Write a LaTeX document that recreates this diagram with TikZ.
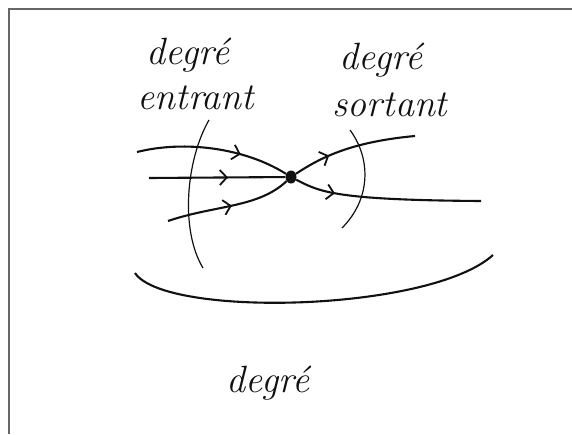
\documentclass[tikz,border=0pt]{standalone}
\usepackage{xcolor}
\usetikzlibrary{arrows.meta,decorations.markings,shapes.geometric}
\definecolor{inkdark}{HTML}{111111}
\definecolor{framegray}{HTML}{666666}

\begin{document}
\begin{tikzpicture}[x=1pt, y=-1pt,
    vertex/.style={ellipse, fill=inkdark, minimum width=11pt, minimum height=13pt, inner sep=0pt},
    arc/.style={draw=inkdark, line width=2.1pt},
    cut/.style={draw=inkdark, line width=1.2pt},
    lbl/.style={font=\fontsize{38}{42}\selectfont\itshape, text=inkdark, inner sep=0pt},
    midarrow/.style={postaction={decorate, decoration={markings,
        mark=at position #1 with {\arrow[inkdark, line width=1.8pt]{Straight Barb[length=7pt, width=15pt]}}}}},
  ]
  \useasboundingbox (0,0) rectangle (572,434);

  % ---- frame
  \draw[framegray, line width=2pt] (572,8.5) -- (8.5,8.5) -- (8.5,434);

  % ---- the vertex and the free ends of its edges
  \node[vertex] (v) at (291,177) {};
  \coordinate (in1) at (137,152);
  \coordinate (in2) at (149,178);
  \coordinate (in3) at (168,221);
  \coordinate (out1) at (415,136);
  \coordinate (out2) at (481,201);

  % ---- incoming edges
  \draw[arc, midarrow=0.68] (in1) .. controls (185,140) and (245,148) .. (v);
  \draw[arc, midarrow=0.58] (in2) -- (v);
  \draw[arc, midarrow=0.52] (in3) .. controls (215,205) and (258,208) .. (v);

  % ---- outgoing edges
  \draw[arc, midarrow=0.3] (v) .. controls (320,158) and (350,142) .. (out1);
  \draw[arc, midarrow=0.22] (v) .. controls (320,192) and (335,200) .. (out2);

  % ---- cuts
  \draw[cut] (209,120) .. controls (186,160) and (180,230) .. (203,268);
  \draw[cut] (350,130) .. controls (372,160) and (370,200) .. (342,228);
  \draw[arc] (135,273) .. controls (165,318) and (430,312) .. (493,255);

  % ---- labels
  \node[lbl] (inlbla) at (188,55) {degré};
  \node[lbl] (inlblb) at (196,98) {entrant};
  \node[lbl] (outlbla) at (381,60) {degré};
  \node[lbl] (outlblb) at (390,105) {sortant};
  \node[lbl] (deglbl) at (268,383) {degré};

\end{tikzpicture}
\end{document}
